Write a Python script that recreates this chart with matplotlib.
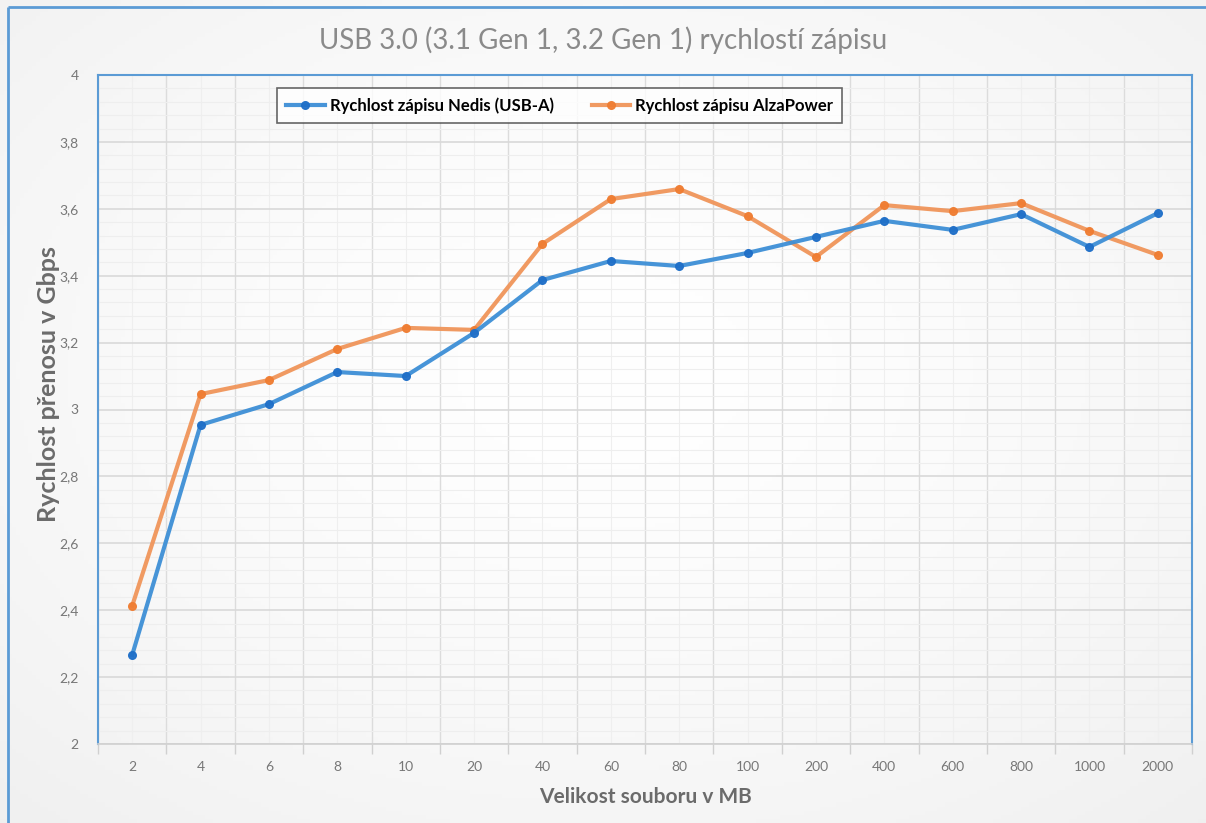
import matplotlib
matplotlib.use("Agg")
import matplotlib.pyplot as plt
import numpy as np
from matplotlib.ticker import MultipleLocator, FixedLocator, FuncFormatter

plt.rcParams['font.family'] = ['Lato', 'DejaVu Sans']

categories = ["2", "4", "6", "8", "10", "20", "40", "60", "80", "100",
              "200", "400", "600", "800", "1000", "2000"]
nedis = [2.266, 2.954, 3.016, 3.112, 3.100, 3.229, 3.387, 3.444, 3.429,
         3.468, 3.516, 3.564, 3.537, 3.584, 3.486, 3.587]
alza = [2.413, 3.046, 3.088, 3.181, 3.244, 3.238, 3.495, 3.629, 3.659,
        3.578, 3.456, 3.611, 3.593, 3.617, 3.534, 3.462]

title = "USB 3.0 (3.1 Gen 1, 3.2 Gen 1) rychlostí zápisu"
xlabel = "Velikost souboru v MB"
ylabel = "Rychlost přenosu v Gbps"
label_nedis = "Rychlost zápisu Nedis (USB-A)"
label_alza = "Rychlost zápisu AlzaPower"

W, H = 1206, 823
fig = plt.figure(figsize=(W / 100, H / 100), dpi=100)
fig.patch.set_facecolor("white")

# background gradient
bg = fig.add_axes([0, 0, 1, 1], zorder=-10)
yy, xx = np.mgrid[0:1:200j, 0:1:300j]
r = np.sqrt(((xx - 0.5) / 0.75) ** 2 + ((yy - 0.55) / 0.75) ** 2)
g = 1.0 - 0.06 * np.clip(r, 0, 1) ** 1.5
img = np.dstack([g, g, g])
bg.imshow(img, extent=[0, 1, 0, 1], aspect="auto", origin="lower")
bg.set_xlim(0, 1)
bg.set_ylim(0, 1)
bg.axis("off")
# outer blue border (top and left)
x0, y0 = 8 / W, 1 - 7 / H
bg.plot([x0, 1.0], [y0, y0], color="#5b9bd5", lw=2, solid_capstyle="butt")
bg.plot([x0, x0], [0, y0], color="#5b9bd5", lw=2, solid_capstyle="butt")

left, right, top, bottom = 98, 1192, 75, 744
ax = fig.add_axes([left / W, 1 - bottom / H, (right - left) / W, (bottom - top) / H])
ax.set_facecolor("none")

x = np.arange(len(categories))
ax.plot(x, nedis, color="#3d8fd6", lw=3, marker="o", ms=5.5,
        mfc="#1f6fc8", mec="#1f6fc8", label=label_nedis, zorder=5, alpha=0.95)
ax.plot(x, alza, color="#f0955a", lw=3, marker="o", ms=5.5,
        mfc="#ef7d32", mec="#ef7d32", label=label_alza, zorder=4, alpha=0.95)

ax.set_xlim(-0.5, len(categories) - 0.5)
ax.set_ylim(2, 4)

ax.yaxis.set_major_locator(MultipleLocator(0.2))
ax.yaxis.set_minor_locator(MultipleLocator(0.04))
ax.yaxis.set_major_formatter(FuncFormatter(lambda v, p: ("%.1f" % v).rstrip("0").rstrip(".").replace(".", ",")))

ax.set_xticks(x)
ax.set_xticklabels(categories)
ax.xaxis.set_minor_locator(FixedLocator(np.arange(-0.5, len(categories), 1.0)))

ax.grid(which="major", axis="y", color="#d9d9d9", lw=1.2)
ax.grid(which="minor", axis="y", color="#eeeeee", lw=0.8)
ax.grid(which="minor", axis="x", color="#dcdcdc", lw=1.0)
ax.grid(which="major", axis="x", color="#efefef", lw=0.8)
ax.set_axisbelow(True)

ax.tick_params(axis="x", which="major", length=0, pad=12, labelsize=10, labelcolor="#777777")
ax.tick_params(axis="x", which="minor", length=7, width=1, color="#d0d0d0")
ax.tick_params(axis="y", which="both", length=0, pad=14, labelsize=10, labelcolor="#777777")

for s in ["left", "top", "right"]:
    ax.spines[s].set_color("#5b9bd5")
    ax.spines[s].set_linewidth(1.5)
ax.spines["bottom"].set_color("#d0d0d0")
ax.spines["bottom"].set_linewidth(1.2)

ax.set_xlabel(xlabel, fontsize=15, fontweight="bold", color="#6b6b6b", labelpad=10)
ax.set_ylabel(ylabel, fontsize=18, fontweight="bold", color="#6b6b6b")
ax.yaxis.set_label_coords((60 - left) / (right - left), (bottom - 384) / (bottom - top))

fig.text(0.5, 1 - 40 / H, title, ha="center", va="center", fontsize=20, color="#8a8a8a")

leg = ax.legend(loc="upper left", bbox_to_anchor=((277 - left) / (right - left), 1 - (88 - top) / (bottom - top)),
                ncol=2, frameon=True, fancybox=False, edgecolor="#404040",
                prop={"weight": "bold", "size": 12}, handlelength=2.3, columnspacing=2.3,
                borderpad=0.55, handletextpad=0.3, borderaxespad=0)
leg.get_frame().set_linewidth(1.2)
leg.get_frame().set_facecolor("white")

fig.savefig("out.png", dpi=100)
